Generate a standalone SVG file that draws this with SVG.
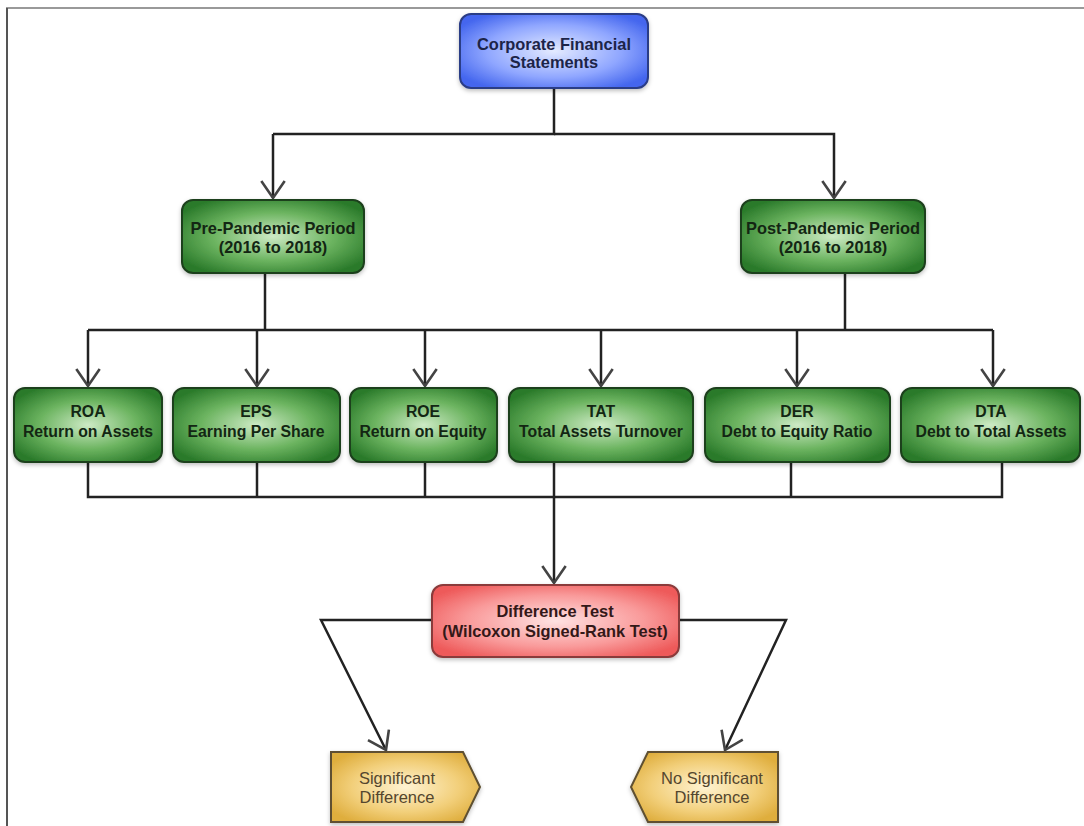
<svg xmlns="http://www.w3.org/2000/svg" width="1084" height="826" viewBox="0 0 1084 826">
<defs>
<radialGradient id="gBlue" cx="50%" cy="50%" r="60%">
<stop offset="0" stop-color="#e4ebff"/><stop offset="0.6" stop-color="#8fa6ff"/><stop offset="1" stop-color="#4466ee"/>
</radialGradient>
<radialGradient id="gGreen" cx="50%" cy="50%" r="60%">
<stop offset="0" stop-color="#cdeac5"/><stop offset="0.55" stop-color="#6cb460"/><stop offset="1" stop-color="#2a7a2a"/>
</radialGradient>
<radialGradient id="gRed" cx="50%" cy="50%" r="60%">
<stop offset="0" stop-color="#ffe2e2"/><stop offset="0.6" stop-color="#f99a9a"/><stop offset="1" stop-color="#ee5a5a"/>
</radialGradient>
<radialGradient id="gYel" cx="50%" cy="50%" r="60%">
<stop offset="0" stop-color="#fff3d2"/><stop offset="0.6" stop-color="#f2cf7a"/><stop offset="1" stop-color="#dfae3e"/>
</radialGradient>
<marker id="arr" markerUnits="userSpaceOnUse" markerWidth="26" markerHeight="26" viewBox="-14 -10 16 20" refX="0" refY="0" orient="auto">
<path d="M-13,-9 L0,0 L-13,9" fill="none" stroke="#444" stroke-width="2"/>
</marker>
<filter id="sh" x="-10%" y="-10%" width="120%" height="130%">
<feDropShadow dx="0" dy="2" stdDeviation="2" flood-color="#000" flood-opacity="0.25"/>
</filter>
</defs>
<style>
.box{stroke-width:2;filter:url(#sh)}
.blue{fill:url(#gBlue);stroke:#2b3c86}
.green{fill:url(#gGreen);stroke:#1d3f1d}
.red{fill:url(#gRed);stroke:#8a3a3a}
.yel{fill:url(#gYel);stroke:#5e5030}
.t{font-family:"Liberation Sans",Arial,sans-serif;font-weight:bold;font-size:15.8px;text-anchor:middle}
.big{font-size:16.4px}
.tb{fill:#1c2448}
.tg{fill:#132613}
.tr{fill:#331818}
.ty{font-family:"Liberation Sans",Arial,sans-serif;font-size:16.5px;text-anchor:middle;fill:#54462e}
.c{fill:none;stroke:#222;stroke-width:2.5}
</style>
<rect width="1084" height="826" fill="#fff"/>
<path d="M7,826 V8 H1084" fill="none" stroke="#999" stroke-width="2"/>
<line x1="7" y1="8" x2="7" y2="826" stroke="#555" stroke-width="2"/>

<g id="connectors">
<path class="c" d="M554,88 V134 H273"/>
<path class="c" d="M273,134 V198" marker-end="url(#arr)"/>
<path class="c" d="M554,134 H834 V198" marker-end="url(#arr)"/>
<path class="c" d="M265,273 V330"/>
<path class="c" d="M845,273 V330"/>
<path class="c" d="M88,330 H993"/>
<path class="c" d="M88,330 V386" marker-end="url(#arr)"/>
<path class="c" d="M257,330 V386" marker-end="url(#arr)"/>
<path class="c" d="M425,330 V386" marker-end="url(#arr)"/>
<path class="c" d="M601,330 V386" marker-end="url(#arr)"/>
<path class="c" d="M797,330 V386" marker-end="url(#arr)"/>
<path class="c" d="M993,330 V386" marker-end="url(#arr)"/>
<path class="c" d="M88,462 V497 H1002 V462"/>
<path class="c" d="M257,462 V497"/>
<path class="c" d="M425,462 V497"/>
<path class="c" d="M791,462 V497"/>
<path class="c" d="M554,462 V583" marker-end="url(#arr)"/>
<path class="c" d="M432,620 H321 L386,750" marker-end="url(#arr)"/>
<path class="c" d="M678,620 H786 L725,750" marker-end="url(#arr)"/>
</g>

<g id="node-cfs">
<rect class="box blue" x="460" y="14" width="188" height="74" rx="11"/>
<text class="t big tb" x="554" y="50">Corporate Financial</text>
<text class="t big tb" x="554" y="68">Statements</text>
</g>

<g id="node-pre">
<rect class="box green" x="182" y="200" width="182" height="73" rx="11"/>
<text class="t big tg" x="273" y="234">Pre-Pandemic Period</text>
<text class="t big tg" x="273" y="253">(2016 to 2018)</text>
</g>

<g id="node-post">
<rect class="box green" x="741" y="200" width="184" height="73" rx="11"/>
<text class="t big tg" x="833" y="234">Post-Pandemic Period</text>
<text class="t big tg" x="833" y="253">(2016 to 2018)</text>
</g>

<g id="node-roa">
<rect class="box green" x="14" y="388" width="148" height="74" rx="11"/>
<text class="t tg" x="88" y="417">ROA</text>
<text class="t tg" x="88" y="437">Return on Assets</text>
</g>
<g id="node-eps">
<rect class="box green" x="173" y="388" width="167" height="74" rx="11"/>
<text class="t tg" x="256" y="417">EPS</text>
<text class="t tg" x="256" y="437">Earning Per Share</text>
</g>
<g id="node-roe">
<rect class="box green" x="350" y="388" width="147" height="74" rx="11"/>
<text class="t tg" x="423" y="417">ROE</text>
<text class="t tg" x="423" y="437">Return on Equity</text>
</g>
<g id="node-tat">
<rect class="box green" x="509" y="388" width="184" height="74" rx="11"/>
<text class="t tg" x="601" y="417">TAT</text>
<text class="t tg" x="601" y="437">Total Assets Turnover</text>
</g>
<g id="node-der">
<rect class="box green" x="705" y="388" width="185" height="74" rx="11"/>
<text class="t tg" x="797" y="417">DER</text>
<text class="t tg" x="797" y="437">Debt to Equity Ratio</text>
</g>
<g id="node-dta">
<rect class="box green" x="901" y="388" width="179" height="74" rx="11"/>
<text class="t tg" x="991" y="417">DTA</text>
<text class="t tg" x="991" y="437">Debt to Total Assets</text>
</g>

<g id="node-diff">
<rect class="box red" x="432" y="585" width="247" height="72" rx="11"/>
<text class="t big tr" x="555" y="617">Difference Test</text>
<text class="t big tr" x="555" y="637">(Wilcoxon Signed-Rank Test)</text>
</g>

<g id="node-sig">
<polygon class="box yel" points="331,752 463,752 480,787 463,822 331,822"/>
<text class="ty" x="397" y="784">Significant</text>
<text class="ty" x="397" y="803">Difference</text>
</g>

<g id="node-nosig">
<polygon class="box yel" points="648,752 778,752 778,822 648,822 631,787"/>
<text class="ty" x="712" y="784">No Significant</text>
<text class="ty" x="712" y="803">Difference</text>
</g>
</svg>
